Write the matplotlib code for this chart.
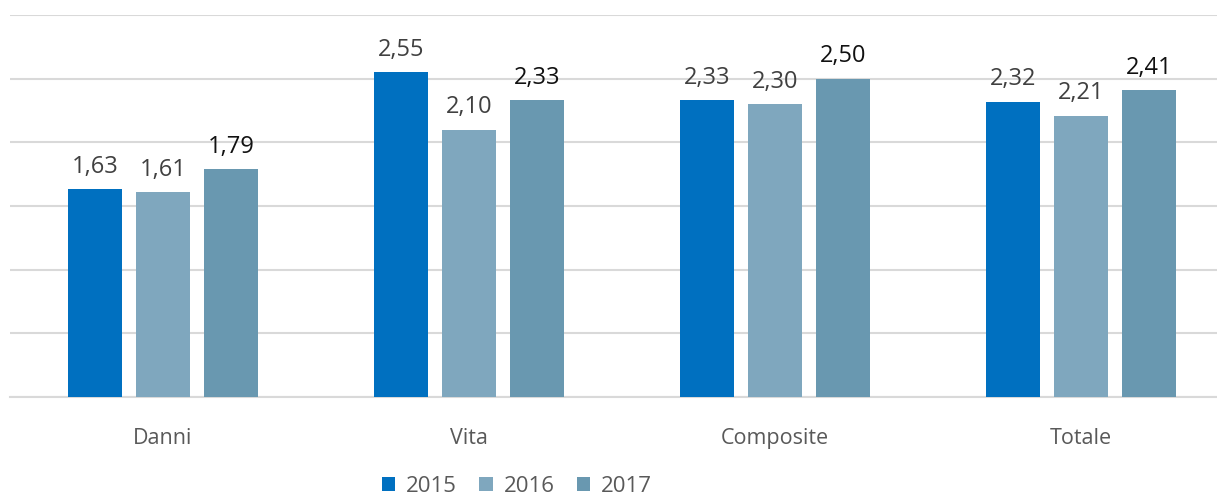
import matplotlib
matplotlib.use("Agg")
import matplotlib.pyplot as plt
from matplotlib.patches import Patch
import numpy as np

categories = ["Danni", "Vita", "Composite", "Totale"]
years = ["2015", "2016", "2017"]
values_2015 = [1.63, 2.55, 2.33, 2.32]
values_2016 = [1.61, 2.10, 2.30, 2.21]
values_2017 = [1.79, 2.33, 2.50, 2.41]
series = [values_2015, values_2016, values_2017]
colors = ["#0070C0", "#7FA7BE", "#6998B0"]
label_colors = ["#404040", "#404040", "#111111"]

plt.rcParams['font.family'] = ['Open Sans', 'DejaVu Sans']

W, H = 1217, 499
fig = plt.figure(figsize=(W / 100, H / 100), dpi=100)
left_px, right_px, top_px, bot_px = 10, 1217, 15, 397
ax = fig.add_axes([left_px / W, 1 - bot_px / H, (right_px - left_px) / W, (bot_px - top_px) / H])

px_per_unit = 306.0
ax.set_xlim(-0.5, -0.5 + (right_px - left_px) / px_per_unit)
ax.set_ylim(0, 3.0)

x = np.arange(len(categories))
width = 0.178
step = 0.222
for i, (vals, c, lc) in enumerate(zip(series, colors, label_colors)):
    pos = x + (i - 1) * step
    bars = ax.bar(pos, vals, width=width, color=c, zorder=3)
    for b, v in zip(bars, vals):
        ax.annotate(f"{v:.2f}".replace(".", ","), (b.get_x() + b.get_width() / 2, v),
                    xytext=(0, 7.5), textcoords="offset points", ha="center", va="bottom",
                    fontsize=17, color=lc)

ax.set_yticks(np.arange(0, 3.01, 0.5))
ax.yaxis.grid(True, color="#D9D9D9", linewidth=1.5, zorder=0)
ax.set_axisbelow(True)
ax.tick_params(axis="y", left=False, labelleft=False)
ax.tick_params(axis="x", bottom=False, labelsize=15.5, labelcolor="#595959", pad=19)
ax.set_xticks(x)
ax.set_xticklabels(categories)
for s in ["top", "right", "left"]:
    ax.spines[s].set_visible(False)
ax.spines["bottom"].set_color("#D9D9D9")
ax.spines["bottom"].set_linewidth(1.5)

handles = [Patch(facecolor=c, label=y) for c, y in zip(colors, years)]
fig.legend(handles=handles, loc="center", bbox_to_anchor=(517 / W, 1 - 486 / H), ncol=3,
           frameon=False, fontsize=16, labelcolor="#595959", handlelength=0.6,
           handleheight=0.6, handletextpad=0.5, columnspacing=1.0,
           borderpad=0.1)

fig.savefig("out.png", dpi=100)
